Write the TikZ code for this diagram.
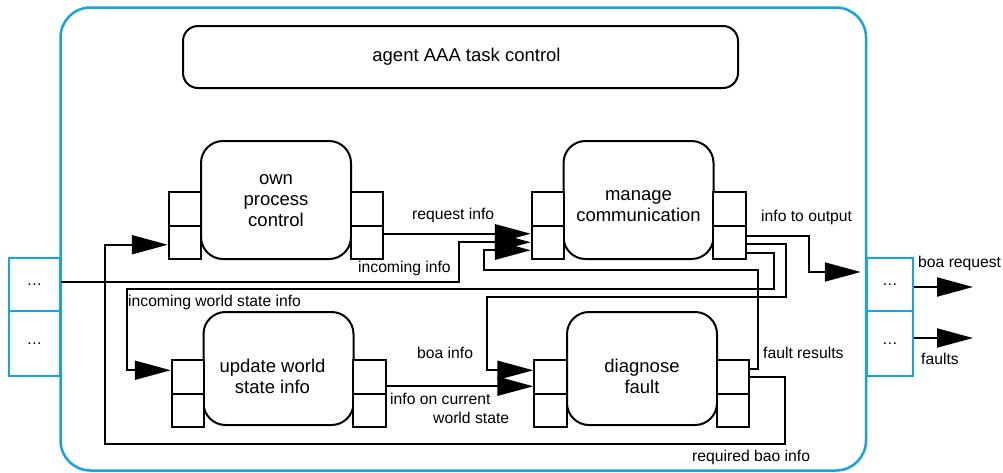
\documentclass[tikz,border=0pt]{standalone}
\usepackage{fontspec}
\setmainfont{Liberation Sans}
\usetikzlibrary{arrows.meta,calc}
\definecolor{ifblue}{RGB}{20,165,225}
\newcommand\bxfont{\fontsize{18.5}{21}\selectfont}
\newcommand\lblfont{\fontsize{15.7}{19}\selectfont}
\begin{document}
\begin{tikzpicture}[x=1pt,y=-1pt,
  >={Triangle[length=36pt,width=19pt]},
  conn/.style={line width=2pt,->},
  procbox/.style={draw,line width=2pt,rounded corners=22pt,minimum width=150pt,fill=white,inner sep=0pt},
  bxtext/.style={font=\bxfont,align=center,inner sep=0pt},
  portcell/.style={draw,line width=2pt,minimum width=32.5pt,minimum height=33.5pt,inner sep=0pt,fill=white},
  ifbox/.style={draw=ifblue,line width=2.5pt,fill=white,inner sep=0pt,font=\lblfont},
  lbl/.style={font=\lblfont,inner sep=0pt,anchor=west},
  frame/.style={draw=ifblue,line width=2.5pt,rounded corners=30pt,inner sep=0pt}
]
\useasboundingbox[fill=white] (0,0) rectangle (1003,472);

% outer agent frame
\node[frame,minimum width=805.5pt,minimum height=463pt] (agent) at (463.25,239) {};

% interface boxes
\node[ifbox,minimum width=51pt,minimum height=53pt] (inL1) at (34.5,284.5) {…};
\node[ifbox,minimum width=51pt,minimum height=65pt] (inL2) at (34.5,343.5) {…};
\node[ifbox,minimum width=46pt,minimum height=53pt] (inR1) at (890,284.5) {…};
\node[ifbox,minimum width=46pt,minimum height=65pt] (inR2) at (890,343.5) {…};

% task control
\node[draw,line width=2pt,rounded corners=15pt,minimum width=555pt,minimum height=62pt,inner sep=0pt,
  label={[bxtext,xshift=6pt]center:agent AAA task control}] (tc) at (460.5,57) {};

% process boxes
\node[procbox,minimum height=118pt,label={[bxtext,yshift=-1pt]center:own\\process\\control}] (op) at (276,200) {};
\node[procbox,minimum height=118pt,label={[bxtext,yshift=-6pt]center:manage\\communication}] (mc) at (638.5,200) {};
\node[procbox,minimum height=113pt,label={[bxtext,xshift=-6pt,yshift=-7.5pt]center:update world\\state info}] (uw) at (278.5,368.5) {};
\node[procbox,minimum height=113pt,label={[bxtext,yshift=-7.5pt]center:diagnose\\fault}] (df) at (642,368.5) {};

% ports
\node[portcell] (opL1) at (185,208.75) {};
\node[portcell] (opL2) at (185,242.25) {};
\node[portcell] (opR1) at (367,208.75) {};
\node[portcell] (opR2) at (367,242.25) {};
\node[portcell] (mcL1) at (548,208.75) {};
\node[portcell] (mcL2) at (548,242.25) {};
\node[portcell] (mcR1) at (729.5,208.75) {};
\node[portcell] (mcR2) at (729.5,242.25) {};
\node[portcell] (uwL1) at (188,376.75) {};
\node[portcell] (uwL2) at (188,410.25) {};
\node[portcell] (uwR1) at (369.5,376.75) {};
\node[portcell] (uwR2) at (369.5,410.25) {};
\node[portcell] (dfL1) at (550.5,376.75) {};
\node[portcell] (dfL2) at (550.5,410.25) {};
\node[portcell] (dfR1) at (733,376.75) {};
\node[portcell] (dfR2) at (733,410.25) {};

% connectors
\coordinate (ri) at ($(opR2.east)+(0,-8.5)$);
\draw[conn] (ri) -- (ri -| mcL2.west);
\draw[conn] ($(inL1.east)+(0,-2.5)$) -- ++(398,0) |- (mcL2.west);
\draw[conn] ($(dfR1.east)+(0,-8)$) -- ++(8,0) -- ++(0,-99) -- ++(-274,0) |- ($(mcL2.west)+(0,8)$);
\draw[conn] ($(mcR2.east)+(0,-6)$) -- ++(62,0) |- ($(inR1.west)+(-5,-12.5)$);
\draw[conn] ($(mcR2.east)+(0,2)$) -- ++(39,0) -- ++(0,53) -- ++(-299,0) |- ($(dfL1.west)+(0,-6.5)$);
\draw[conn] ($(mcR2.east)+(0,10.5)$) -- ++(27,0) -- ++(0,36) -- ++(-647,0) |- ($(uwL1.west)+(0,-6.5)$);
\coordinate (ic) at ($(uwR1.east)+(0,9.5)$);
\draw[conn] (ic) -- (ic -| dfL1.west);
\draw[conn] (dfR1.east) -- ++(35,0) -- ++(0,67) -- ++(-680,0) |- ($(opL2.west)+(0,2.5)$);
\coordinate (boaout) at (973,287);
\coordinate (faultout) at (973,338);
\draw[conn] ($(inR1.east)+(0,2.5)$) -- (boaout);
\draw[conn] ($(inR2.east)+(0,-5.5)$) -- (faultout);

% labels
\node[lbl] (lreq) at (412,215) {request info};
\node[lbl] (linc) at (358,268) {incoming info};
\node[lbl] (lws) at (128,302) {incoming world state info};
\node[lbl] (lboa) at (417,353) {boa info};
\node[lbl,align=left] (lcur) at (390,408.5) {info on current\\\hspace*{43pt}world state};
\node[lbl] (lout) at (761,217) {info to output};
\node[lbl] (lfr) at (763,353) {fault results};
\node[lbl] (lbao) at (692,457) {required bao info};
\node[lbl] (lbreq) at (918,263) {boa request};
\node[lbl] (lflt) at (921,359) {faults};
\end{tikzpicture}
\end{document}
